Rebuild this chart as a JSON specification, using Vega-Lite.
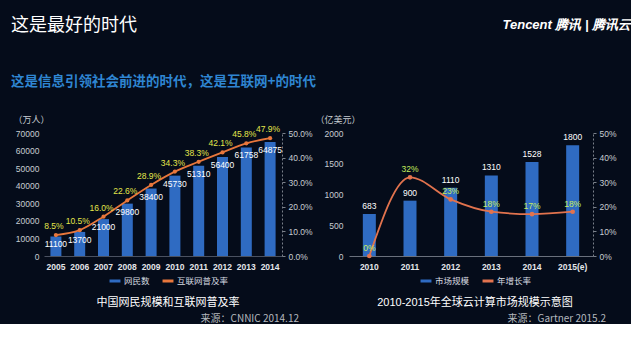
{
  "$schema": "https://vega.github.io/schema/vega-lite/v6.json",
  "background": "#050c1a",
  "padding": {"left": 11, "top": 16, "right": 0, "bottom": 0},
  "config": {
    "font": "Liberation Sans",
    "view": {"stroke": null},
    "axis": {"grid": false, "labelFont": "Liberation Sans", "labelFontSize": 8.5, "labelColor": "#c8ccd2", "titleFont": "Noto Sans CJK SC", "titleFontWeight": "normal", "titleColor": "#c8ccd2", "titleFontSize": 9}
  },
  "title": {
    "text": "这是最好的时代",
    "subtitle": "这是信息引领社会前进的时代，这是互联网+的时代",
    "anchor": "start",
    "frame": "bounds",
    "font": "Noto Sans CJK SC",
    "fontSize": 18,
    "fontWeight": "normal",
    "color": "#ffffff",
    "subtitleFont": "Noto Sans CJK SC",
    "subtitleFontSize": 13.5,
    "subtitleFontWeight": "bold",
    "subtitleColor": "#2f86d2",
    "subtitlePadding": 40,
    "offset": -70,
    "dx": -2
  },
  "spacing": 2,
  "resolve": {"scale": {"color": "independent"}, "legend": {"color": "independent"}},
  "hconcat": [
    {
      "width": 238,
      "height": 123,
      "data": {"values": [
        {"year": "2005", "users": 11100, "rate": 0.085},
        {"year": "2006", "users": 13700, "rate": 0.105},
        {"year": "2007", "users": 21000, "rate": 0.160},
        {"year": "2008", "users": 29800, "rate": 0.226},
        {"year": "2009", "users": 38400, "rate": 0.289},
        {"year": "2010", "users": 45730, "rate": 0.343},
        {"year": "2011", "users": 51310, "rate": 0.383},
        {"year": "2012", "users": 56400, "rate": 0.421},
        {"year": "2013", "users": 61758, "rate": 0.458},
        {"year": "2014", "users": 64875, "rate": 0.479}
      ]},
      "title": {"text": "来源：CNNIC 2014.12", "orient": "bottom", "anchor": "end", "frame": "group", "dx": 17, "offset": 6, "font": "Noto Sans CJK SC", "fontSize": 10, "fontWeight": "normal", "color": "#b4b8be"},
      "encoding": {
        "x": {"field": "year", "type": "ordinal", "title": null,
          "scale": {"paddingInner": 0, "paddingOuter": 0},
          "axis": {"labelAngle": 0, "ticks": false, "domainColor": "#4a5160", "labelPadding": 6, "labelFontWeight": "bold", "labelColor": "#e4e6ea", "labelFontSize": 8.5}}
      },
      "layer": [
        {
          "encoding": {
            "y": {"field": "users", "type": "quantitative", "scale": {"domain": [0, 70000]},
              "axis": {"title": "（万人）", "titleAngle": 0, "titleX": -31, "titleY": -14, "titleAlign": "left", "titleBaseline": "middle", "domain": false, "ticks": false, "labelPadding": 5, "format": "d", "values": [0, 10000, 20000, 30000, 40000, 50000, 60000, 70000]}}
          },
          "layer": [
            {
              "mark": {"type": "bar", "size": 11},
              "encoding": {
                "color": {"datum": "网民数", "type": "nominal",
                  "scale": {"domain": ["网民数", "互联网普及率"], "range": ["#2f6bc2", "#e8773c"]},
                  "legend": {"orient": "none", "legendX": 53, "legendY": 141, "direction": "horizontal", "title": "中国网民规模和互联网普及率", "titleOrient": "bottom", "titleAnchor": "middle", "titleLimit": 300, "titleFont": "Liberation Sans, Noto Sans CJK SC", "titleFontSize": 11, "titleFontWeight": "normal", "titleColor": "#ffffff", "titlePadding": 10, "labelFont": "Noto Sans CJK SC", "labelFontSize": 8.5, "labelColor": "#d8dce2", "symbolType": "stroke", "symbolStrokeWidth": 3, "symbolSize": 120, "columnPadding": 6, "labelOffset": 2}}
              }
            },
            {
              "mark": {"type": "text", "dy": 8, "color": "#ffffff", "fontSize": 8.5, "font": "Liberation Sans"},
              "encoding": {"text": {"field": "users", "type": "quantitative", "format": "d"}}
            }
          ]
        },
        {
          "encoding": {
            "y": {"field": "rate", "type": "quantitative", "scale": {"domain": [0, 0.5]},
              "axis": {"orient": "right", "title": null, "format": ".1%", "values": [0, 0.1, 0.2, 0.3, 0.4, 0.5], "domainColor": "#7a808a", "domainDash": [2, 2], "tickColor": "#7a808a", "tickSize": 3, "labelPadding": 3}}
          },
          "layer": [
            {
              "mark": {"type": "line", "interpolate": "monotone", "strokeWidth": 1.8, "point": {"filled": true, "size": 18}},
              "encoding": {"color": {"datum": "互联网普及率", "type": "nominal"}}
            },
            {
              "mark": {"type": "text", "dy": -9, "dx": -2, "color": "#e4e64a", "fontSize": 8.5, "font": "Liberation Sans"},
              "encoding": {"text": {"field": "rate", "type": "quantitative", "format": ".1%"}}
            }
          ]
        }
      ],
      "resolve": {"scale": {"y": "independent"}}
    },
    {
      "width": 244,
      "height": 123,
      "data": {"values": [
        {"year": "2010", "market": 683, "growth": 0.0},
        {"year": "2011", "market": 900, "growth": 0.32},
        {"year": "2012", "market": 1110, "growth": 0.23},
        {"year": "2013", "market": 1310, "growth": 0.18},
        {"year": "2014", "market": 1528, "growth": 0.17},
        {"year": "2015(e)", "market": 1800, "growth": 0.18}
      ]},
      "title": {"text": "来源：Gartner 2015.2", "orient": "bottom", "anchor": "end", "frame": "group", "dx": 13, "offset": 6, "font": "Noto Sans CJK SC", "fontSize": 10, "fontWeight": "normal", "color": "#b4b8be"},
      "encoding": {
        "x": {"field": "year", "type": "ordinal", "title": null,
          "scale": {"paddingInner": 0, "paddingOuter": 0},
          "axis": {"labelAngle": 0, "ticks": false, "domainColor": "#6a707c", "labelPadding": 6, "labelFontWeight": "bold", "labelColor": "#e4e6ea", "labelFontSize": 8.5}}
      },
      "layer": [
        {
          "encoding": {
            "y": {"field": "market", "type": "quantitative", "scale": {"domain": [0, 2000]},
              "axis": {"title": "（亿美元）", "titleAngle": 0, "titleX": -34, "titleY": -14, "titleAlign": "left", "titleBaseline": "middle", "domain": false, "ticks": false, "labelPadding": 6, "format": "d", "values": [0, 500, 1000, 1500, 2000]}}
          },
          "layer": [
            {
              "mark": {"type": "bar", "size": 13},
              "encoding": {
                "color": {"datum": "市场规模", "type": "nominal",
                  "scale": {"domain": ["市场规模", "年增长率"], "range": ["#2f6bc2", "#e2734e"]},
                  "legend": {"orient": "none", "legendX": 28, "legendY": 141, "direction": "horizontal", "title": "2010-2015年全球云计算市场规模示意图", "titleOrient": "bottom", "titleAnchor": "middle", "titleLimit": 300, "titleFont": "Liberation Sans, Noto Sans CJK SC", "titleFontSize": 11, "titleFontWeight": "normal", "titleColor": "#ffffff", "titlePadding": 10, "labelFont": "Noto Sans CJK SC", "labelFontSize": 8.5, "labelColor": "#d8dce2", "symbolType": "stroke", "symbolStrokeWidth": 3, "symbolSize": 120, "columnPadding": 6, "labelOffset": 2}}
              }
            },
            {
              "mark": {"type": "text", "dy": -8, "color": "#ffffff", "fontSize": 8.5, "font": "Liberation Sans"},
              "encoding": {"text": {"field": "market", "type": "quantitative", "format": "d"}}
            }
          ]
        },
        {
          "encoding": {
            "y": {"field": "growth", "type": "quantitative", "scale": {"domain": [0, 0.5]},
              "axis": {"orient": "right", "title": "Tencent 腾讯 | 腾讯云", "titleAngle": 0, "titleX": -91, "titleY": -109, "titleAlign": "left", "titleBaseline": "middle", "titleFont": "Liberation Sans", "titleFontSize": 13, "titleFontStyle": "italic", "titleFontWeight": "bold", "titleColor": "#ffffff", "format": ".0%", "values": [0, 0.1, 0.2, 0.3, 0.4, 0.5], "domainColor": "#7a808a", "domainDash": [2, 2], "tickColor": "#7a808a", "tickSize": 3, "labelPadding": 3}}
          },
          "layer": [
            {
              "mark": {"type": "line", "interpolate": "monotone", "strokeWidth": 1.8, "point": {"filled": true, "size": 22}},
              "encoding": {"color": {"datum": "年增长率", "type": "nominal"}}
            },
            {
              "mark": {"type": "text", "dy": -8, "color": "#c6ec5c", "fontSize": 8.5, "font": "Liberation Sans"},
              "encoding": {"text": {"field": "growth", "type": "quantitative", "format": ".0%"}}
            }
          ]
        }
      ],
      "resolve": {"scale": {"y": "independent"}}
    }
  ]
}
